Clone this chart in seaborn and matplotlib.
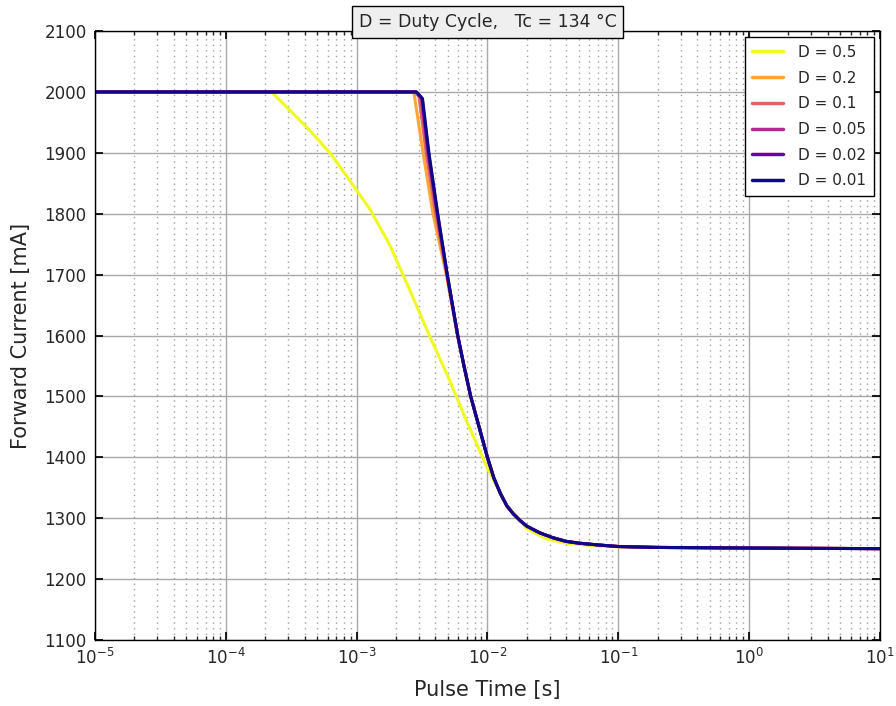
import numpy as np
import pandas as pd
import matplotlib
matplotlib.use("Agg")
import matplotlib.pyplot as plt
import seaborn as sns

# Duty cycles, in legend order
duty = ["0.5", "0.2", "0.1", "0.05", "0.02", "0.01"]

# Pulse time [s] / forward current [mA]
# D = 0.5 has its own curve
t_05 = [1e-5, 2.24e-4, 3.16e-4, 4.47e-4, 6.31e-4, 8.91e-4, 1.26e-3, 1.78e-3, 2.51e-3,
        3.55e-3, 5.01e-3, 7.08e-3, 1.0e-2, 1.41e-2, 2.0e-2, 2.82e-2, 3.98e-2, 6.31e-2,
        1e-1, 3.16e-1, 1.0, 10.0]
i_05 = [2000, 2000, 1968, 1935, 1899, 1854, 1808, 1750, 1678,
        1603, 1532, 1455, 1382, 1321, 1283, 1266, 1259, 1255,
        1253, 1252, 1251, 1250]

# the smaller duty cycles drop later and steeper (upper part of each curve)
t_02 = [1e-5, 2.74e-3, 3.22e-3, 3.84e-3, 4.85e-3, 5.9e-3]
i_02 = [2000, 2000, 1900, 1800, 1700, 1600]
t_01 = [1e-5, 2.8e-3, 3.0e-3, 3.4e-3, 4.02e-3, 4.9e-3, 5.92e-3]
i_01 = [2000, 2000, 1992, 1900, 1800, 1700, 1600]
t_005 = [1e-5, 2.84e-3, 3.12e-3, 3.5e-3, 4.12e-3, 4.92e-3, 5.93e-3]
i_005 = [2000, 2000, 1990, 1900, 1800, 1700, 1600]
t_002 = [1e-5, 2.86e-3, 3.17e-3, 3.55e-3, 4.15e-3, 4.93e-3, 5.93e-3]
i_002 = [2000, 2000, 1989, 1900, 1800, 1700, 1600]
t_001 = [1e-5, 2.87e-3, 3.19e-3, 3.57e-3, 4.17e-3, 4.93e-3, 5.93e-3]
i_001 = [2000, 2000, 1989, 1900, 1800, 1700, 1600]

# ... and then share the same lower part
t_low = [6.62e-3, 7.45e-3, 8.63e-3, 1.0e-2, 1.12e-2, 1.26e-2, 1.41e-2, 1.58e-2, 1.78e-2,
         2.0e-2, 2.51e-2, 3.16e-2, 3.98e-2, 5.01e-2, 7.08e-2, 1e-1, 2e-1, 1.0, 10.0]
i_low = [1550, 1500, 1450, 1400, 1366, 1340, 1320, 1307, 1296,
         1287, 1276, 1268, 1262, 1259, 1256, 1253.5, 1252, 1251, 1250]

series_t = [t_05, t_02 + t_low, t_01 + t_low, t_005 + t_low, t_002 + t_low, t_001 + t_low]
series_i = [i_05, i_02 + i_low, i_01 + i_low, i_005 + i_low, i_002 + i_low, i_001 + i_low]

frames = []
for d, t, i in zip(duty, series_t, series_i):
    frames.append(pd.DataFrame({"t": t, "I": i, "D": "D = " + d}))
df = pd.concat(frames, ignore_index=True)

hue_order = ["D = " + d for d in duty]
colors = [plt.cm.plasma(v) for v in np.linspace(1, 0, len(duty))]
palette = dict(zip(hue_order, colors))

sns.set_theme(style="white", rc={
    "xtick.direction": "in", "ytick.direction": "in",
    "xtick.top": True, "ytick.right": True,
    "xtick.bottom": True, "ytick.left": True,
    "xtick.major.size": 6, "ytick.major.size": 6,
    "xtick.minor.size": 3, "ytick.minor.size": 3,
    "axes.edgecolor": "black", "axes.linewidth": 1.0,
})
plt.rcParams["font.family"] = ["DejaVu Sans"]

fig, ax = plt.subplots(figsize=(8.96, 7.06), dpi=100)
fig.subplots_adjust(left=0.106, right=0.982, top=0.956, bottom=0.0935)

sns.lineplot(data=df, x="t", y="I", hue="D", hue_order=hue_order, palette=palette,
             estimator=None, sort=True, linewidth=2.2, ax=ax)

ax.set_xscale("log")
ax.set_xlim(1e-5, 10)
ax.set_ylim(1100, 2100)
ax.set_yticks(np.arange(1100, 2101, 100))
ax.xaxis.set_minor_locator(matplotlib.ticker.LogLocator(base=10, subs=np.arange(2, 10)))
ax.xaxis.set_minor_formatter(matplotlib.ticker.NullFormatter())

ax.grid(True, which="major", color="#a8a8a8", linestyle="-", linewidth=1.0)
ax.grid(True, which="minor", axis="x", color="#a0a0a0", linestyle=(0, (1, 3)), linewidth=1.0)
ax.set_axisbelow(True)

ax.tick_params(axis="both", which="major", labelsize=12, colors="black", labelcolor="#262626", pad=6)
ax.set_xlabel("Pulse Time [s]", fontsize=15, labelpad=8, color="#262626")
ax.set_ylabel("Forward Current [mA]", fontsize=15, labelpad=10, color="#262626")

ax.text(0.5, 1.015, "D = Duty Cycle,   Tc = 134 \u00b0C", transform=ax.transAxes,
        ha="center", va="center", fontsize=12.5, color="#262626",
        bbox=dict(boxstyle="square,pad=0.4", facecolor="#efefef", edgecolor="black"))

leg = ax.legend(loc="upper right", fontsize=11, frameon=True, fancybox=False,
                edgecolor="black", framealpha=1.0, handlelength=2.0, handletextpad=1.0,
                borderaxespad=0.4, labelspacing=0.7, borderpad=0.5)
leg.get_frame().set_linewidth(1.0)
for txt in leg.get_texts():
    txt.set_color("#262626")
for line in leg.get_lines():
    line.set_linewidth(2.5)

fig.savefig("out.png", dpi=100)
